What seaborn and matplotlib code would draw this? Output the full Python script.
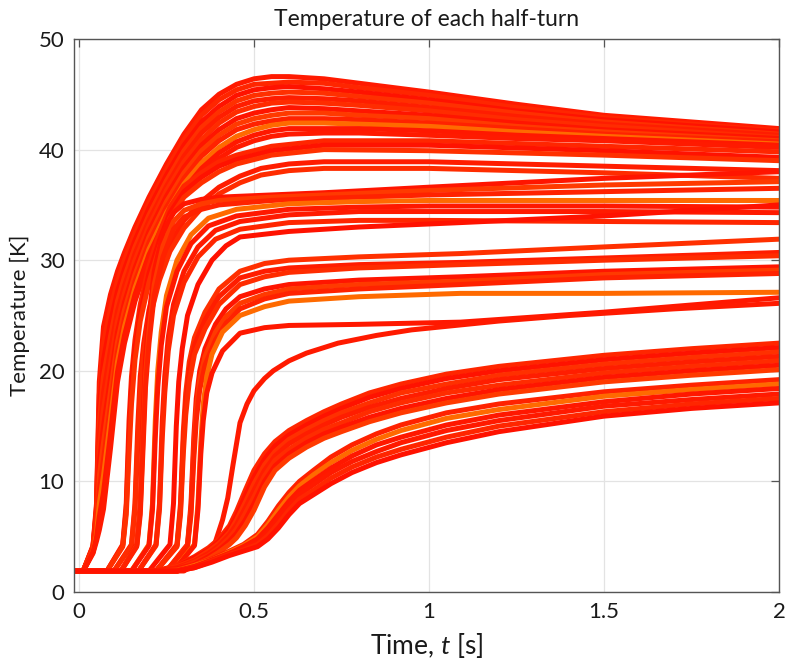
import matplotlib
matplotlib.use("Agg")
import matplotlib.pyplot as plt
import pandas as pd
import seaborn as sns

# ---------------------------------------------------------------
# Half-turn temperatures [K] versus time [s], grouped by quench onset
# ---------------------------------------------------------------

# earliest quenched half-turns (hottest bundle)
t_A = [-0.02, 0.012, 0.04, 0.05, 0.058, 0.07, 0.09, 0.11, 0.13, 0.16, 0.2, 0.25,
       0.3, 0.35, 0.4, 0.45, 0.5, 0.55, 0.6, 0.7, 0.8, 1.0, 1.25, 1.5, 2.0]
T_A = [
    [1.9, 1.9, 4.2, 8.0, 19.0, 24.0, 26.9, 29.0, 30.7, 33.0, 35.7, 38.7, 41.4, 43.6, 45.0, 45.9, 46.4, 46.6, 46.6, 46.4, 46.0, 45.2, 44.1, 43.1, 41.9],
    [1.9, 1.9, 4.1, 7.7, 17.8, 22.5, 25.6, 28.1, 30.0, 32.4, 35.2, 38.2, 40.9, 43.1, 44.5, 45.4, 45.9, 46.0, 46.1, 46.0, 45.6, 44.9, 43.8, 42.9, 41.7],
    [1.9, 1.9, 4.1, 7.4, 16.6, 21.0, 24.4, 27.2, 29.2, 31.8, 34.7, 37.7, 40.4, 42.5, 43.9, 44.9, 45.4, 45.6, 45.7, 45.5, 45.2, 44.5, 43.5, 42.7, 41.6],
    [1.9, 1.9, 4.0, 7.1, 15.3, 19.5, 23.1, 26.3, 28.5, 31.2, 34.1, 37.2, 39.9, 42.0, 43.4, 44.4, 44.9, 45.1, 45.2, 45.1, 44.8, 44.2, 43.3, 42.5, 41.4],
    [1.9, 1.9, 3.9, 6.8, 14.1, 18.0, 21.9, 25.4, 27.7, 30.6, 33.6, 36.7, 39.4, 41.5, 42.9, 43.9, 44.4, 44.6, 44.7, 44.6, 44.4, 43.8, 43.0, 42.3, 41.3],
    [1.9, 1.9, 3.9, 6.5, 12.9, 16.5, 20.6, 24.5, 27.0, 30.0, 33.1, 36.3, 38.9, 40.9, 42.4, 43.4, 43.9, 44.2, 44.3, 44.2, 44.0, 43.5, 42.7, 42.1, 41.1],
    [1.9, 1.9, 3.8, 6.1, 11.7, 15.0, 19.3, 23.5, 26.2, 29.3, 32.6, 35.8, 38.4, 40.4, 41.8, 42.8, 43.3, 43.6, 43.8, 43.7, 43.5, 43.1, 42.4, 41.8, 41.0],
    [1.9, 1.9, 3.8, 5.8, 10.5, 13.5, 18.1, 22.6, 25.5, 28.7, 32.1, 35.3, 37.9, 39.9, 41.3, 42.3, 42.8, 43.1, 43.3, 43.3, 43.1, 42.8, 42.1, 41.6, 40.8],
    [1.9, 1.9, 3.7, 5.5, 9.2, 12.0, 16.8, 21.7, 24.7, 28.1, 31.6, 34.8, 37.4, 39.4, 40.8, 41.8, 42.3, 42.6, 42.8, 42.8, 42.7, 42.4, 41.9, 41.4, 40.7],
    [1.9, 1.9, 3.6, 5.2, 8.0, 10.5, 15.6, 20.8, 24.0, 27.5, 31.0, 34.3, 36.9, 38.8, 40.2, 41.2, 41.8, 42.2, 42.4, 42.4, 42.3, 42.1, 41.6, 41.2, 40.5],
    [1.9, 1.9, 3.6, 4.9, 6.8, 9.0, 14.3, 19.9, 23.2, 26.9, 30.5, 33.8, 36.4, 38.3, 39.7, 40.7, 41.3, 41.7, 41.9, 41.9, 41.9, 41.7, 41.3, 41.0, 40.4],
    [1.9, 1.9, 3.5, 4.6, 5.6, 7.5, 13.0, 19.0, 22.5, 26.3, 30.0, 33.3, 35.9, 37.8, 39.2, 40.2, 40.8, 41.2, 41.4, 41.5, 41.5, 41.3, 41.0, 40.8, 40.2],
]

# second onset group, settling near 40 K
t_B = [-0.02, 0.08, 0.125, 0.135, 0.143, 0.15, 0.16, 0.175, 0.2, 0.23, 0.26, 0.3,
       0.35, 0.4, 0.45, 0.55, 0.7, 1.0, 1.5, 2.0]
T_B = [
    [1.9, 1.9, 4.3, 8.0, 15.5, 19.5, 22.8, 26.0, 29.5, 32.5, 34.8, 36.7, 37.9, 38.9, 39.5, 40.3, 40.8, 40.8, 40.3, 39.8],
    [1.9, 1.9, 4.2, 7.5, 14.0, 18.5, 22.0, 25.2, 28.8, 31.8, 34.3, 36.2, 37.5, 38.5, 39.1, 39.9, 40.4, 40.4, 39.9, 39.3],
    [1.9, 1.9, 4.1, 7.0, 12.5, 17.0, 21.0, 24.5, 28.0, 31.2, 33.8, 35.7, 37.0, 38.0, 38.7, 39.5, 40.0, 39.9, 39.5, 39.0],
]

# slowly cooling pair near 38-39 K
t_C = [-0.02, 0.1, 0.15, 0.16, 0.168, 0.175, 0.185, 0.2, 0.23, 0.26, 0.3, 0.35,
       0.4, 0.46, 0.52, 0.6, 0.7, 1.0, 1.5, 2.0]
T_C = [
    [1.9, 1.9, 4.3, 8.0, 15.0, 19.5, 22.5, 25.5, 29.0, 31.5, 33.6, 35.3, 36.6, 37.6, 38.3, 38.7, 38.9, 38.9, 38.5, 38.1],
    [1.9, 1.9, 4.2, 7.5, 13.5, 18.0, 21.5, 24.5, 28.2, 30.8, 32.9, 34.7, 36.0, 37.0, 37.7, 38.1, 38.3, 38.3, 37.9, 37.4],
]

# plateau near 36 K, still warming at the end
t_D = [-0.02, 0.12, 0.165, 0.175, 0.183, 0.19, 0.2, 0.215, 0.24, 0.27, 0.3, 0.35,
       0.4, 0.55, 0.7, 1.0, 1.5, 2.0]
T_D = [
    [1.9, 1.9, 4.3, 8.0, 15.5, 21.0, 25.0, 29.0, 32.5, 34.3, 35.1, 35.5, 35.7, 35.9, 36.1, 36.6, 37.4, 38.0],
    [1.9, 1.9, 4.2, 7.5, 14.0, 19.5, 23.5, 27.8, 31.3, 33.5, 34.5, 35.1, 35.4, 35.7, 35.9, 36.3, 36.8, 37.1],
    [1.9, 1.9, 4.1, 7.0, 13.0, 18.5, 22.5, 26.8, 30.3, 32.8, 33.9, 34.6, 35.0, 35.4, 35.6, 35.9, 36.2, 36.5],
]

# flat near 35 K
t_E = [-0.02, 0.15, 0.2, 0.21, 0.218, 0.225, 0.235, 0.25, 0.28, 0.32, 0.37, 0.45,
       0.6, 0.8, 1.0, 1.5, 2.0]
T_E = [
    [1.9, 1.9, 4.3, 8.0, 15.5, 20.0, 23.5, 26.8, 30.0, 32.3, 33.8, 34.6, 35.1, 35.3, 35.4, 35.4, 35.4],
    [1.9, 1.9, 4.2, 7.5, 14.0, 18.5, 22.3, 25.8, 29.0, 31.5, 33.1, 34.0, 34.6, 34.8, 34.9, 34.9, 34.8],
]

# flat near 34 K
t_F = [-0.02, 0.17, 0.22, 0.23, 0.238, 0.245, 0.255, 0.27, 0.3, 0.34, 0.39, 0.46,
       0.6, 0.8, 1.0, 1.5, 2.0]
T_F = [
    [1.9, 1.9, 4.3, 8.0, 15.5, 19.5, 23.0, 26.0, 29.0, 31.2, 32.7, 33.5, 34.1, 34.4, 34.4, 34.4, 34.3],
    [1.9, 1.9, 4.2, 7.5, 14.0, 18.0, 21.8, 25.0, 28.0, 30.3, 31.9, 32.8, 33.4, 33.6, 33.6, 33.5, 33.4],
]

# single half-turn climbing from 32 K to 35 K
t_G = [-0.02, 0.2, 0.26, 0.27, 0.278, 0.285, 0.295, 0.31, 0.34, 0.38, 0.42, 0.46,
       0.6, 0.8, 1.09, 1.5, 2.0]
T_G = [
    [1.9, 1.9, 4.3, 8.0, 15.0, 19.0, 22.0, 25.0, 27.8, 30.0, 31.3, 32.1, 32.6, 33.0, 33.4, 34.0, 35.0],
]

# group around 30-32 K
t_H = [-0.02, 0.22, 0.28, 0.29, 0.298, 0.305, 0.315, 0.33, 0.36, 0.4, 0.46, 0.53,
       0.6, 0.8, 1.09, 1.5, 2.0]
T_H = [
    [1.9, 1.9, 4.3, 8.0, 14.5, 18.0, 20.8, 23.0, 25.3, 27.4, 29.0, 29.7, 30.0, 30.3, 30.6, 31.2, 31.9],
    [1.9, 1.9, 4.2, 7.5, 13.5, 17.0, 20.0, 22.3, 24.6, 26.7, 28.4, 29.0, 29.3, 29.6, 29.8, 30.2, 30.7],
    [1.9, 1.9, 4.1, 7.0, 12.5, 16.0, 19.0, 21.5, 23.8, 26.0, 27.8, 28.5, 28.9, 29.3, 29.6, 30.0, 30.4],
]

# group around 29 K
t_I = [-0.02, 0.25, 0.31, 0.32, 0.328, 0.335, 0.345, 0.36, 0.39, 0.42, 0.46, 0.53,
       0.6, 0.8, 1.09, 1.5, 2.0]
T_I = [
    [1.9, 1.9, 4.3, 8.0, 14.0, 17.5, 20.0, 22.0, 24.2, 25.6, 26.7, 27.4, 27.8, 28.2, 28.5, 29.0, 29.4],
    [1.9, 1.9, 4.2, 7.5, 13.0, 16.5, 19.2, 21.3, 23.5, 24.9, 26.1, 26.9, 27.4, 27.8, 28.1, 28.7, 29.1],
    [1.9, 1.9, 4.1, 7.0, 12.0, 15.5, 18.3, 20.5, 22.8, 24.3, 25.6, 26.5, 27.0, 27.4, 27.8, 28.4, 28.8],
]

# late quenches ending at 26-27 K
t_J = [-0.02, 0.27, 0.33, 0.34, 0.348, 0.355, 0.365, 0.38, 0.41, 0.46, 0.53, 0.6,
       0.8, 1.09, 1.5, 2.0]
T_J = [
    [1.9, 1.9, 4.3, 8.0, 13.5, 17.0, 19.5, 21.5, 23.5, 25.0, 25.8, 26.3, 26.7, 27.0, 27.0, 27.1],
    [1.9, 1.9, 4.2, 7.5, 12.5, 15.5, 18.0, 19.8, 21.8, 23.4, 23.9, 24.1, 24.2, 24.4, 25.3, 26.6],
]
t_K = [-0.02, 0.3, 0.38, 0.41, 0.425, 0.44, 0.46, 0.48, 0.5, 0.53, 0.555, 0.6, 0.65,
       0.74, 0.85, 0.95, 1.2, 1.4, 1.7, 2.0]
T_K = [
    [1.9, 1.9, 3.6, 6.5, 8.5, 11.5, 15.3, 17.0, 18.2, 19.3, 20.0, 20.9, 21.6, 22.5, 23.2, 23.7, 24.5, 25.0, 25.6, 26.1],
]

# half-turns that never quench quickly (upper slow bundle)
t_L = [-0.02, 0.22, 0.28, 0.33, 0.37, 0.4, 0.43, 0.45, 0.475, 0.5, 0.53, 0.56, 0.6,
       0.65, 0.7, 0.75, 0.83, 0.92, 1.05, 1.2, 1.5, 1.75, 2.0]
T_L = [
    [1.9, 1.9, 2.4, 3.2, 4.0, 4.8, 6.0, 7.3, 9.2, 11.0, 12.5, 13.6, 14.6, 15.5, 16.3, 17.0, 18.0, 18.8, 19.7, 20.4, 21.4, 22.0, 22.5],
    [1.9, 1.9, 2.3, 3.1, 3.8, 4.6, 5.7, 6.9, 8.7, 10.4, 12.0, 13.2, 14.2, 15.1, 15.9, 16.6, 17.6, 18.4, 19.3, 20.0, 21.0, 21.6, 22.1],
    [1.9, 1.9, 2.3, 2.9, 3.7, 4.4, 5.4, 6.5, 8.1, 9.8, 11.5, 12.7, 13.8, 14.7, 15.5, 16.2, 17.1, 18.0, 18.8, 19.6, 20.6, 21.2, 21.7],
    [1.9, 1.9, 2.2, 2.8, 3.5, 4.2, 5.2, 6.1, 7.6, 9.2, 11.0, 12.3, 13.4, 14.3, 15.1, 15.8, 16.7, 17.5, 18.4, 19.2, 20.2, 20.8, 21.3],
    [1.9, 1.9, 2.1, 2.7, 3.3, 4.0, 4.9, 5.7, 7.1, 8.6, 10.5, 11.9, 12.9, 13.9, 14.7, 15.3, 16.3, 17.1, 18.0, 18.7, 19.8, 20.4, 20.9],
    [1.9, 1.9, 2.1, 2.5, 3.2, 3.8, 4.6, 5.3, 6.5, 8.0, 10.0, 11.4, 12.5, 13.5, 14.3, 14.9, 15.8, 16.6, 17.5, 18.3, 19.4, 20.0, 20.5],
    [1.9, 1.9, 2.0, 2.4, 3.0, 3.6, 4.3, 4.9, 6.0, 7.4, 9.5, 11.0, 12.1, 13.1, 13.9, 14.5, 15.4, 16.2, 17.1, 17.9, 19.0, 19.6, 20.1],
]

# lower slow bundle
t_M = [-0.02, 0.28, 0.33, 0.38, 0.43, 0.47, 0.51, 0.54, 0.57, 0.6, 0.63, 0.67, 0.72,
       0.78, 0.85, 0.92, 1.05, 1.2, 1.5, 1.75, 2.0]
T_M = [
    [1.9, 1.9, 2.4, 3.0, 3.7, 4.3, 5.2, 6.4, 7.8, 9.0, 10.0, 11.0, 12.2, 13.3, 14.3, 15.1, 16.2, 17.0, 18.1, 18.7, 19.2],
    [1.9, 1.9, 2.4, 2.9, 3.6, 4.2, 5.0, 6.1, 7.4, 8.6, 9.6, 10.6, 11.7, 12.8, 13.8, 14.6, 15.7, 16.5, 17.7, 18.3, 18.8],
    [1.9, 1.9, 2.3, 2.9, 3.5, 4.1, 4.8, 5.8, 7.0, 8.2, 9.2, 10.1, 11.2, 12.3, 13.3, 14.0, 15.1, 16.0, 17.2, 17.9, 18.4],
    [1.9, 1.9, 2.3, 2.8, 3.5, 3.9, 4.5, 5.4, 6.6, 7.8, 8.8, 9.7, 10.8, 11.8, 12.7, 13.5, 14.6, 15.5, 16.8, 17.4, 17.9],
    [1.9, 1.9, 2.2, 2.8, 3.4, 3.8, 4.3, 5.1, 6.2, 7.4, 8.4, 9.2, 10.3, 11.3, 12.2, 12.9, 14.0, 15.0, 16.3, 17.0, 17.5],
    [1.9, 1.9, 2.2, 2.7, 3.3, 3.7, 4.1, 4.8, 5.8, 7.0, 8.0, 8.8, 9.8, 10.8, 11.7, 12.4, 13.5, 14.5, 15.9, 16.6, 17.1],
]

groups = [(t_A, T_A), (t_B, T_B), (t_C, T_C), (t_D, T_D), (t_E, T_E), (t_F, T_F),
          (t_G, T_G), (t_H, T_H), (t_I, T_I), (t_J, T_J), (t_K, T_K), (t_L, T_L), (t_M, T_M)]

x_ticks = [0, 0.5, 1, 1.5, 2]
x_tick_labels = ["0", "0.5", "1", "1.5", "2"]
y_ticks = [0, 10, 20, 30, 40, 50]

# ---------------------------------------------------------------
# long-format table: one row per sample, one unit per half-turn
# ---------------------------------------------------------------
rows = []
k = 0
for times, temps in groups:
    for curve in temps:
        for t, T in zip(times, curve):
            rows.append({"turn": k, "t": t, "T": T})
        k += 1
df = pd.DataFrame(rows)
n_turns = k

# autumn-like shades: nearly all red, an occasional orange one
shades = ["#ff1a00", "#ff2600", "#ff1200", "#ff3000", "#ff1d00", "#ff2c00",
          "#ff1500", "#ff3a00", "#ff2200", "#ff6a00", "#ff1800"]
palette = [shades[i % len(shades)] for i in range(n_turns)]

sns.set_theme(style="white")
plt.rcParams["font.family"] = ["Lato", "DejaVu Sans"]
plt.rcParams["mathtext.fontset"] = "custom"
plt.rcParams["mathtext.it"] = "Lato:italic"
plt.rcParams["mathtext.rm"] = "Lato"

fig = plt.figure(figsize=(7.85, 6.68), dpi=100)
ax = fig.add_axes([74 / 785, 1 - 592 / 668, (779 - 74) / 785, (592 - 39) / 668])

sns.lineplot(data=df, x="t", y="T", hue="turn", palette=palette, legend=False,
             estimator=None, sort=False, linewidth=3.6, ax=ax)

ax.set_xlim(-0.0143, 2.0)
ax.set_ylim(0, 50)
ax.set_xticks(x_ticks)
ax.set_xticklabels(x_tick_labels)
ax.set_yticks(y_ticks)

ax.grid(True, color="#e3e3e3", linewidth=0.9)
ax.set_axisbelow(True)
for s in ax.spines.values():
    s.set_visible(True)
    s.set_color("#555555")
    s.set_linewidth(1.0)
ax.tick_params(direction="in", length=6, width=0.9, color="#555555",
               top=True, right=True, labelsize=16, pad=7, labelcolor="#1a1a1a")

ax.set_xlabel("Time, $t$ [s]", fontsize=19, color="#1a1a1a", labelpad=7)
ax.set_ylabel("Temperature [K]", fontsize=16, color="#1a1a1a", labelpad=6)
ax.set_title("Temperature of each half-turn", fontsize=16.5, color="#1a1a1a", pad=9)

fig.savefig("out.png", dpi=100)
